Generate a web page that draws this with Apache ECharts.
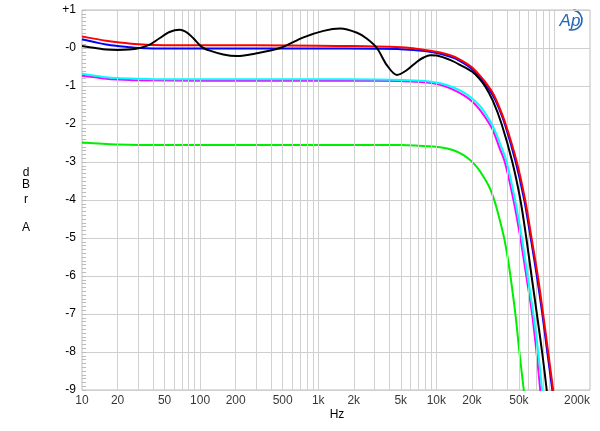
<!DOCTYPE html>
<html><head><meta charset="utf-8">
<script src="https://cdn.jsdelivr.net/npm/echarts@6/dist/echarts.min.js"></script>
<style>html,body{margin:0;padding:0;background:#fff}#c{width:600px;height:431px}</style>
</head><body><div id="c"></div>
<script>
var xTicks = [10,20,50,100,200,500,1000,2000,5000,10000,20000,50000,200000];
var xTickLabels = ['10','20','50','100','200','500','1k','2k','5k','10k','20k','50k','200k'];
var xGrid = [20,30,40,50,60,70,80,90,100,200,300,400,500,600,700,800,900,1000,2000,3000,4000,5000,6000,7000,8000,9000,10000,20000,30000,40000,50000,60000,70000,80000,90000,100000];

var green = [[10,-2.49],[15,-2.52],[20,-2.54],[30,-2.55],[100,-2.55],[1000,-2.55],[3000,-2.55],[5000,-2.55],[7000,-2.57],[10800,-2.61],[14000,-2.69],[17000,-2.82],[20000,-2.99],[22500,-3.17],[25000,-3.38],[27500,-3.6],[30000,-3.88],[33000,-4.3],[37500,-5.0],[40000,-5.48],[42400,-6.0],[46700,-7.0],[50500,-8.0],[55000,-9.0],[56500,-9.3]];
var magenta = [[10,-0.73],[13,-0.77],[16,-0.81],[20,-0.83],[30,-0.85],[100,-0.86],[1000,-0.86],[3000,-0.86],[5000,-0.87],[8000,-0.9],[10800,-0.97],[14000,-1.1],[17000,-1.24],[20000,-1.4],[23000,-1.6],[26000,-1.83],[30000,-2.15],[34000,-2.6],[38000,-3.0],[45000,-4.0],[51500,-5],[57800,-6],[64700,-7],[70500,-8],[75800,-9.0],[77500,-9.3]];
var cyan = [[10,-0.68],[13,-0.73],[16,-0.77],[20,-0.79],[30,-0.81],[40,-0.82],[100,-0.82],[1000,-0.82],[3000,-0.83],[5000,-0.84],[8000,-0.87],[10800,-0.93],[14000,-1.04],[17000,-1.17],[20000,-1.32],[23000,-1.5],[26000,-1.72],[30000,-2.05],[34500,-2.5],[39400,-3.0],[46400,-4.0],[53000,-5],[59300,-6],[66300,-7],[72900,-8],[78600,-9.0],[80500,-9.3]];
var blue = [[10,0.23],[13,0.15],[16,0.09],[20,0.05],[25,0.02],[30,0.0],[40,-0.01],[100,-0.01],[1000,-0.01],[3000,-0.02],[5000,-0.03],[8000,-0.08],[10800,-0.15],[14000,-0.26],[17000,-0.4],[20000,-0.55],[23000,-0.74],[26000,-0.95],[30000,-1.24],[33500,-1.55],[38000,-2.0],[47000,-3.0],[55500,-4.0],[63000,-5],[71000,-6],[79000,-7],[87000,-8],[96000,-9.0],[98500,-9.3]];
var red = [[10,0.30],[13,0.24],[16,0.19],[20,0.15],[25,0.12],[30,0.10],[40,0.08],[60,0.07],[100,0.07],[300,0.07],[1000,0.06],[2000,0.05],[4000,0.03],[6000,0.0],[8000,-0.05],[10800,-0.12],[14000,-0.22],[17000,-0.36],[20000,-0.51],[23000,-0.7],[26000,-0.9],[30000,-1.18],[33500,-1.5],[38600,-2.0],[48000,-3.0],[56500,-4.0],[64000,-5],[72300,-6],[80200,-7],[88400,-8],[97500,-9.0],[100000,-9.3]];
var black = [[10,0.05],[13,0.0],[16,-0.04],[20,-0.05],[25,-0.04],[30,-0.01],[37,0.08],[45,0.25],[55,0.42],[67,0.48],[78,0.40],[88,0.25],[103,0.03],[121,-0.07],[157,-0.17],[205,-0.21],[300,-0.14],[476,0.0],[750,0.28],[1110,0.45],[1535,0.51],[2130,0.40],[2570,0.25],[3140,0.0],[3810,-0.45],[4640,-0.71],[5640,-0.58],[6860,-0.36],[7810,-0.25],[8900,-0.19],[10100,-0.2],[13200,-0.32],[16000,-0.45],[20000,-0.62],[23000,-0.8],[26000,-1.02],[30000,-1.38],[35700,-2.0],[44000,-3.0],[51500,-4.0],[57800,-5],[64000,-6],[71000,-7],[78600,-8],[86000,-9.0],[88000,-9.3]];

var FONT = '"Liberation Sans", Arial, sans-serif';
var chart = echarts.init(document.getElementById('c'), null, {renderer:'canvas'});
function curve(name, data, color, z) {
  return {name:name, type:'line', data:data, smooth:0.3, symbol:'none', clip:true, z:z,
    lineStyle:{color:color, width:2}, animation:false};
}
var opt = {
  animation:false,
  grid:{left:82, right:10, top:10, bottom:41, show:true, borderColor:'#bdbdbd', borderWidth:1, backgroundColor:'#fff'},
  xAxis:{type:'log', logBase:10, min:10, max:200000, axisLine:{show:false}, axisTick:{show:false}, axisLabel:{show:false}, splitLine:{show:false}},
  yAxis:{type:'value', min:-9, max:1, interval:1,
    axisLine:{show:false}, axisTick:{show:true, inside:true, length:4, lineStyle:{color:'#bbbbbb'}},
    minorTick:{show:true, splitNumber:10, length:4, lineStyle:{color:'#bbbbbb'}},
    axisLabel:{color:'#000', fontSize:12, fontFamily:FONT, margin:6,
      formatter:function(v){ return v>0 ? '+'+v : '-'+Math.abs(v); }},
    splitLine:{lineStyle:{color:'#cfcfcf', width:1}}},
  series:[
    {type:'line', data:[], z:1, silent:true, markLine:{silent:true, symbol:'none', animation:false, label:{show:false},
      lineStyle:{color:'#d0d0d0', type:'solid', width:1}, data:xGrid.map(function(v){return {xAxis:v};})}},
    {type:'scatter', z:5, symbolSize:1, clip:false, silent:true, itemStyle:{color:'rgba(0,0,0,0)'},
      label:{show:true, position:'bottom', distance:4, color:'#000', fontSize:12, fontFamily:FONT,
        formatter:function(p){ return xTickLabels[p.dataIndex]; }},
      data:xTicks.map(function(v,i){
        var d = {value:[v,-9]};
        if (i === xTicks.length-1) d.label = {align:'right'};
        return d; })},
    curve('green', green, '#00ee00', 3),
    curve('magenta', magenta, '#ff00ff', 4),
    curve('cyan', cyan, '#00ffff', 5),
    curve('blue', blue, '#0000ff', 6),
    curve('red', red, '#ff0000', 7),
    curve('black', black, '#000000', 8)
  ],
  graphic:[
    {type:'text', x:337, y:415, style:{text:'Hz', fill:'#000', font:'12px '+FONT, align:'center', verticalAlign:'middle'}},
    {type:'text', x:26, y:173, style:{text:'d', fill:'#000', font:'12px '+FONT, align:'center', verticalAlign:'middle'}},
    {type:'text', x:26, y:185, style:{text:'B', fill:'#000', font:'12px '+FONT, align:'center', verticalAlign:'middle'}},
    {type:'text', x:26, y:200, style:{text:'r', fill:'#000', font:'12px '+FONT, align:'center', verticalAlign:'middle'}},
    {type:'text', x:26, y:228, style:{text:'A', fill:'#000', font:'12px '+FONT, align:'center', verticalAlign:'middle'}},
    {type:'text', x:570, y:21, style:{text:'Ap', fill:'#2468b4', font:'italic 17px '+FONT, align:'center', verticalAlign:'middle'}},
    {type:'arc', shape:{cx:572, cy:20, r:10, startAngle:-1.4, endAngle:1.9}, style:{stroke:'#2468b4', lineWidth:1.6, fill:null}}
  ]
};
chart.setOption(opt);
</script>
</body></html>
